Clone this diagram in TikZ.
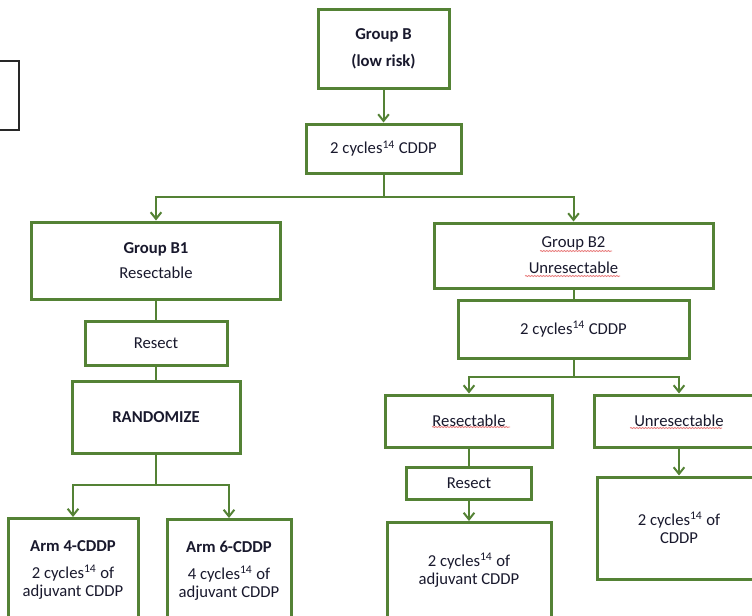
\documentclass[tikz,border=0pt]{standalone}
\usepackage{fontspec}
\setmainfont{Carlito}
\usetikzlibrary{arrows.meta,decorations.pathmorphing}
\definecolor{grn}{RGB}{84,130,53}
\definecolor{spellred}{RGB}{232,120,120}
\definecolor{ink}{RGB}{25,25,45}
\tikzset{every picture/.style={line width=0.75pt}}
\tikzset{
  box/.style={draw=grn, line width=2.25pt, fill=white, align=center, inner sep=0pt, text=ink, font=\fontsize{12.5}{13.5}\selectfont},
  link/.style={draw=grn, line width=1.5pt},
  arr/.style={link, -{Straight Barb[length=5pt,width=8pt]}},
  spell/.style={draw=spellred, line width=0.6pt, decorate, decoration={snake, amplitude=0.4pt, segment length=2.2pt}}
}

\begin{document}
\begin{tikzpicture}[x=0.75pt,y=0.75pt,yscale=-1,xscale=1]
\useasboundingbox (0,0) rectangle (752,615);

%Shape: Rectangle [cut at left margin]
\draw [line width=1.5pt, color={rgb, 255:red, 40; green, 40; blue, 40 }] (-10,61) rectangle (19,130);

%Shape: Rectangle [top of tree]
\node [box, minimum width=98.25pt, minimum height=59.25pt] (grpB) at (383.5,48.5) {\textbf{Group B}\\[6.75pt]\textbf{(low risk)}};
\node [box, minimum width=116.25pt, minimum height=36.75pt] (cycA) at (383.5,148.5) {2 cycles\textsuperscript{14} CDDP};

%Shape: Rectangle [left branch]
\node [box, minimum width=186.75pt, minimum height=57.75pt] (grpBa) at (156,260.5) {\textbf{Group B1}\\[5.25pt]Resectable};
\node [box, minimum width=106.5pt, minimum height=33pt] (resA) at (156,343) {Resect};
\node [box, minimum width=126pt, minimum height=54pt] (rand) at (156,417) {\textbf{RANDOMIZE}};
\node [box, anchor=north, minimum width=97.5pt, minimum height=79.5pt, text depth=4.85pt] (armF) at (73,517) {\textbf{Arm 4-CDDP}\\[6.75pt]2 cycles\textsuperscript{14} of\\adjuvant CDDP};
\node [box, anchor=north, minimum width=93pt, minimum height=79.5pt, text depth=4.85pt] (armS) at (229,518) {\textbf{Arm 6-CDDP}\\[6.75pt]4 cycles\textsuperscript{14} of\\adjuvant CDDP};

%Shape: Rectangle [right branch]
\node [box, minimum width=209.25pt, minimum height=48.75pt] (grpBb) at (573.5,255.5) {Group B2\\[6pt]Unresectable};
\node [box, minimum width=173.25pt, minimum height=43.5pt] (cycB) at (573.5,329) {2 cycles\textsuperscript{14} CDDP};
\node [box, minimum width=125.25pt, minimum height=39pt] (resbl) at (469,421) {Resectable};
\node [box, minimum width=127.5pt, minimum height=39pt] (unres) at (679,421) {Unresectable};
\node [box, minimum width=93.75pt, minimum height=24pt] (resB) at (469,483) {Resect};
\node [box, anchor=north, minimum width=123pt, minimum height=80pt, text depth=10.5pt] (adjB) at (469,521) {2 cycles\textsuperscript{14} of\\adjuvant CDDP};
\node [box, minimum width=123pt, minimum height=76.5pt] (cdB) at (679,528) {2 cycles\textsuperscript{14} of\\CDDP};

%Straight Lines [connectors]
\coordinate (splitB) at (383.5,197);
\coordinate (splitR) at (156,485);
\coordinate (splitC) at (573.5,377);
\draw [arr] (grpB) -- (cycA);
\draw [link] (cycA) -- (splitB);
\draw [arr] (splitB) -| (grpBa);
\draw [arr] (splitB) -| (grpBb);
\draw [link] (grpBa) -- (resA);
\draw [link] (resA) -- (rand);
\draw [link] (rand) -- (splitR);
\draw [arr] (splitR) -| (armF);
\draw [arr] (splitR) -| (armS);
\draw [link] (grpBb) -- (cycB);
\draw [link] (cycB) -- (splitC);
\draw [arr] (splitC) -| (resbl);
\draw [arr] (splitC) -| (unres);
\draw [link] (resbl) -- (resB);
\draw [arr] (resB) -- (adjB);
\draw [arr] (unres) -- (cdB);

%Spell marks
\draw [spell] (540,251) -- (612,251);
\draw [spell] (525,276) -- (620,276);
\draw [spell] (432,427) -- (510,427);
\draw [spell] (630,428) -- (722,428);

\end{tikzpicture}
\end{document}
